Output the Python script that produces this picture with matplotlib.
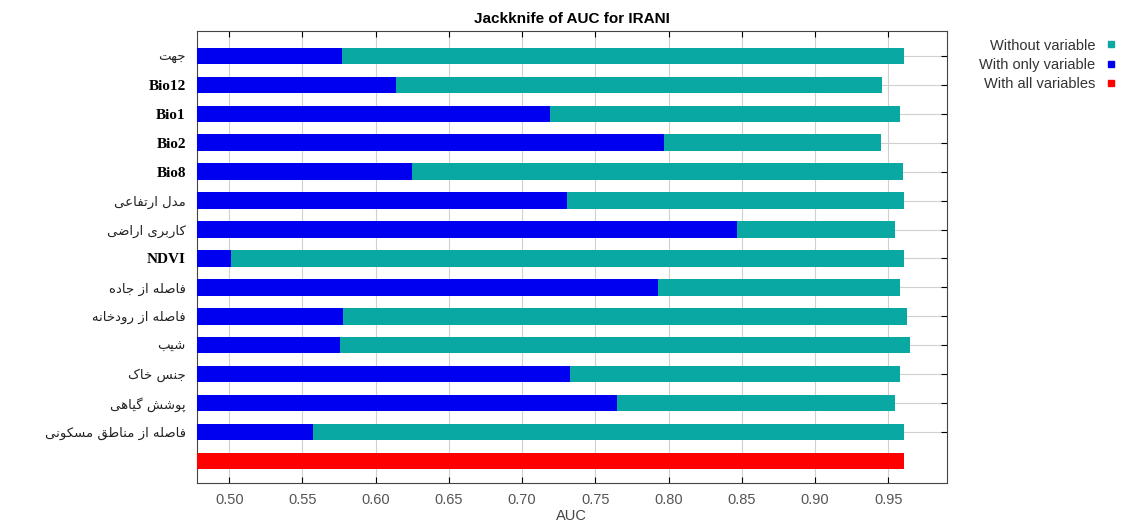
import numpy as np
import matplotlib
matplotlib.use('Agg')
import matplotlib.pyplot as plt
from matplotlib.lines import Line2D

# Datos (orden de arriba hacia abajo)
variables = ['جهت', 'Bio12', 'Bio1', 'Bio2', 'Bio8', 'مدل ارتفاعی', 'کاربری اراضی',
             'NDVI', 'فاصله از جاده', 'فاصله از رودخانه', 'شیب', 'جنس خاک',
             'پوشش گیاهی', 'فاصله از مناطق مسکونی']
auc_without = [0.961, 0.946, 0.958, 0.945, 0.960, 0.961, 0.955,
               0.961, 0.958, 0.963, 0.965, 0.958, 0.955, 0.961]
auc_only = [0.577, 0.614, 0.719, 0.797, 0.625, 0.731, 0.847,
            0.501, 0.793, 0.578, 0.576, 0.733, 0.765, 0.557]
auc_all = 0.961
xticks = [0.50, 0.55, 0.60, 0.65, 0.70, 0.75, 0.80, 0.85, 0.90, 0.95]

teal = '#0aa8a3'
blue = '#0000f0'
red = '#ff0000'

# Formas de presentacion arabes: (aislada, final, inicial, medial)
forms = {
    'ا': ('\uFE8D', '\uFE8E'), 'ب': ('\uFE8F', '\uFE90', '\uFE91', '\uFE92'),
    'ت': ('\uFE95', '\uFE96', '\uFE97', '\uFE98'), 'ج': ('\uFE9D', '\uFE9E', '\uFE9F', '\uFEA0'),
    'خ': ('\uFEA5', '\uFEA6', '\uFEA7', '\uFEA8'), 'د': ('\uFEA9', '\uFEAA'),
    'ر': ('\uFEAD', '\uFEAE'), 'ز': ('\uFEAF', '\uFEB0'),
    'س': ('\uFEB1', '\uFEB2', '\uFEB3', '\uFEB4'), 'ش': ('\uFEB5', '\uFEB6', '\uFEB7', '\uFEB8'),
    'ص': ('\uFEB9', '\uFEBA', '\uFEBB', '\uFEBC'), 'ض': ('\uFEBD', '\uFEBE', '\uFEBF', '\uFEC0'),
    'ط': ('\uFEC1', '\uFEC2', '\uFEC3', '\uFEC4'), 'ع': ('\uFEC9', '\uFECA', '\uFECB', '\uFECC'),
    'ف': ('\uFED1', '\uFED2', '\uFED3', '\uFED4'), 'ق': ('\uFED5', '\uFED6', '\uFED7', '\uFED8'),
    'ل': ('\uFEDD', '\uFEDE', '\uFEDF', '\uFEE0'), 'م': ('\uFEE1', '\uFEE2', '\uFEE3', '\uFEE4'),
    'ن': ('\uFEE5', '\uFEE6', '\uFEE7', '\uFEE8'), 'ه': ('\uFEE9', '\uFEEA', '\uFEEB', '\uFEEC'),
    'و': ('\uFEED', '\uFEEE'), 'ی': ('\uFBFC', '\uFBFD', '\uFBFE', '\uFBFF'),
    'ک': ('\uFB8E', '\uFB8F', '\uFB90', '\uFB91'), 'گ': ('\uFB92', '\uFB93', '\uFB94', '\uFB95'),
    'پ': ('\uFB56', '\uFB57', '\uFB58', '\uFB59'),
}


def shape(text):
    if not any(c in forms for c in text):
        return text
    out = []
    for i, c in enumerate(text):
        if c not in forms:
            out.append(c)
            continue
        prev = text[i - 1] if i > 0 else ''
        nxt = text[i + 1] if i + 1 < len(text) else ''
        join_prev = prev in forms and len(forms[prev]) == 4
        join_next = len(forms[c]) == 4 and nxt in forms
        f = forms[c]
        if join_prev and join_next:
            out.append(f[3])
        elif join_prev:
            out.append(f[1])
        elif join_next:
            out.append(f[2])
        else:
            out.append(f[0])
    return ''.join(out)[::-1]


fig = plt.figure(figsize=(11.36, 5.30), dpi=100)
ax = fig.add_axes([0.1734, 0.0887, 0.66, 0.8528])

y = np.arange(len(variables) + 1)
ax.barh(y[:-1], auc_without, height=0.57, color=teal, zorder=2)
ax.barh(y[:-1], auc_only, height=0.57, color=blue, zorder=3)
ax.barh(y[-1], auc_all, height=0.57, color=red, zorder=3)

ax.set_xlim(0.478, 0.99)
ax.set_ylim(len(variables) + 0.76, -0.86)
ax.set_xticks(xticks)
ax.set_xticklabels([f'{t:.2f}' for t in xticks], fontfamily='Liberation Sans')
ax.set_yticks(y[:-1])
ax.set_yticklabels([shape(v) for v in variables])

for lab, v in zip(ax.get_yticklabels(), variables):
    if v.isascii():
        lab.set_fontfamily('Liberation Serif')
        lab.set_fontweight('bold')
        lab.set_fontsize(11)
    else:
        lab.set_fontfamily('DejaVu Sans')
        lab.set_fontsize(9.5)
        lab.set_color('#222222')

ax.grid(True, color='#d0d0d0', linewidth=0.8, zorder=0)
ax.set_axisbelow(True)
ax.tick_params(axis='x', direction='in', top=True, bottom=True, length=4,
               labelsize=10.5, labelcolor='#555555', pad=7)
ax.tick_params(axis='y', direction='in', left=False, right=True, length=4, pad=8)
for s in ax.spines.values():
    s.set_color('#444444')

ax.set_xlabel('AUC', fontsize=10.5, color='#444444', labelpad=2, fontfamily='Liberation Sans')
ax.set_title('Jackknife of AUC for IRANI', fontsize=11, fontweight='bold', pad=6,
             fontfamily='Liberation Sans')

handles = [Line2D([], [], marker='s', linestyle='', color=teal, markersize=5),
           Line2D([], [], marker='s', linestyle='', color=blue, markersize=5),
           Line2D([], [], marker='s', linestyle='', color=red, markersize=5)]
fig.legend(handles, ['Without variable', 'With only variable', 'With all variables'],
           loc='upper right', bbox_to_anchor=(0.995, 0.952), frameon=False,
           markerfirst=False, handlelength=0.8, handletextpad=0.7,
           labelspacing=0.35, prop={'family': 'Liberation Sans', 'size': 10.5},
           labelcolor='#333333')

fig.savefig('out.png', dpi=100)
